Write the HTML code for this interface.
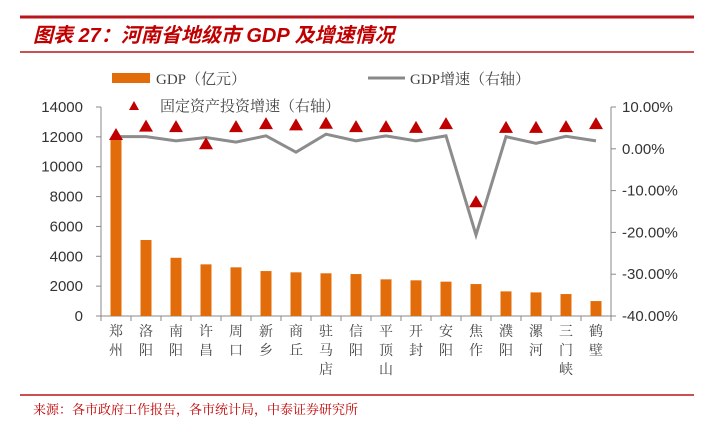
<!DOCTYPE html>
<html><head><meta charset="utf-8"><style>
body{margin:0;background:#fff;width:716px;height:426px;overflow:hidden;font-family:"Liberation Sans","Noto Sans CJK SC",sans-serif}
</style></head><body>
<svg width="716" height="426" xmlns="http://www.w3.org/2000/svg">
<line x1="20" y1="17" x2="694" y2="17" stroke="#b8161c" stroke-width="3"/>
<text x="33" y="42" fill="#c00000" font-size="20" font-weight="bold" font-style="italic" font-family="Liberation Sans,Noto Sans CJK SC,sans-serif">图表 27：河南省地级市 GDP 及增速情况</text>
<line x1="20" y1="52" x2="694" y2="52" stroke="#b8161c" stroke-width="1.5"/>
<g font-family="Liberation Serif,Noto Serif CJK SC,serif" font-size="15" fill="#444">
<rect x="112" y="73" width="38" height="10" fill="#e36c0a"/>
<text x="156" y="84">GDP（亿元）</text>
<line x1="368" y1="78" x2="405" y2="78" stroke="#888" stroke-width="3"/>
<text x="410" y="84">GDP增速（右轴）</text>
<polygon points="134,101 139,110 129,110" fill="#c00000"/>
<text x="160" y="111">固定资产投资增速（右轴）</text>
</g>
<g id="axes"></g>
<g id="marks"></g>
<line x1="20" y1="395" x2="694" y2="395" stroke="#b8161c" stroke-width="1.5"/>
<text x="33" y="414" fill="#c00000" font-size="13" font-family="Liberation Serif,Noto Serif CJK SC,serif">来源：各市政府工作报告，各市统计局，中泰证券研究所</text>
</svg>
<script>
const categories=["郑州","洛阳","南阳","许昌","周口","新乡","商丘","驻马店","信阳","平顶山","开封","安阳","焦作","濮阳","漯河","三门峡","鹤壁"];
const gdp=[12003,5090,3900,3460,3260,3010,2925,2860,2810,2455,2390,2300,2140,1650,1580,1470,1000];
const gdpGrowth=[2.9,2.9,1.9,2.7,1.6,3.1,-0.8,3.5,1.9,3.1,1.9,3.1,-20.6,2.9,1.3,3.0,1.9];
const investGrowth=[3.3,5.3,5.2,1.1,5.2,5.9,5.6,6.0,5.2,5.2,5.0,5.9,-12.8,5.0,5.0,5.2,5.9];
const leftTicks=[0,2000,4000,6000,8000,10000,12000,14000];
const rightTicks=[10,0,-10,-20,-30,-40];
const NS="http://www.w3.org/2000/svg";
const X0=101,X1=611,YT=107,YB=316;
const n=categories.length,step=(X1-X0)/n;
const xc=i=>X0+step*(i+0.5);
const yL=v=>YB-(v/14000)*(YB-YT);
const yR=v=>YT+(10-v)/50*(YB-YT);
const axes=document.getElementById('axes'),marks=document.getElementById('marks');
function mk(tag,at,parent){const e=document.createElementNS(NS,tag);for(const k in at)e.setAttribute(k,at[k]);parent.appendChild(e);return e;}
let e;
e=mk('line',{x1:X0,y1:YT,x2:X0,y2:YB,stroke:'#888'},axes);


e=mk('line',{x1:X1,y1:YT,x2:X1,y2:YB,stroke:'#888'},axes);


e=mk('line',{x1:X0,y1:YB,x2:X1,y2:YB,stroke:'#888'},axes);


leftTicks.forEach(t=>{const y=yL(t);mk('line',{x1:X0-5,y1:y,x2:X0,y2:y,stroke:'#888'},axes);
e=mk('text',{x:83,y:y+5,'text-anchor':'end','font-size':15,fill:'#333'},axes);e.textContent=t;

});
rightTicks.forEach(t=>{const y=yR(t);mk('line',{x1:X1,y1:y,x2:X1+5,y2:y,stroke:'#888'},axes);
e=mk('text',{x:622,y:y+5,'font-size':15,fill:'#333'},axes);e.textContent=t.toFixed(2)+'%';

});
for(let i=0;i<=n;i++){const x=X0+step*i;mk('line',{x1:x,y1:YB,x2:x,y2:YB+5,stroke:'#888'},axes);}
categories.forEach((c,i)=>{[...c].forEach((ch,j)=>{e=mk('text',{x:xc(i),y:336+j*19,'text-anchor':'middle','font-size':14,fill:'#444','font-family':'Noto Serif CJK SC,serif'},axes);e.textContent=ch;

});});
gdp.forEach((v,i)=>{e=mk('rect',{x:xc(i)-5.5,y:yL(v),width:11,height:YB-yL(v),fill:'#e36c0a'},marks);

});
e=mk('polyline',{points:gdpGrowth.map((v,i)=>xc(i)+','+yR(v)).join(' '),fill:'none',stroke:'#8c8c8c','stroke-width':3},marks);


investGrowth.forEach((v,i)=>{const x=xc(i),y=yR(v);e=mk('polygon',{points:`${x},${y-7} ${x+7},${y+5} ${x-7},${y+5}`,fill:'#c00000'},marks);

});
</script>
</body></html>
